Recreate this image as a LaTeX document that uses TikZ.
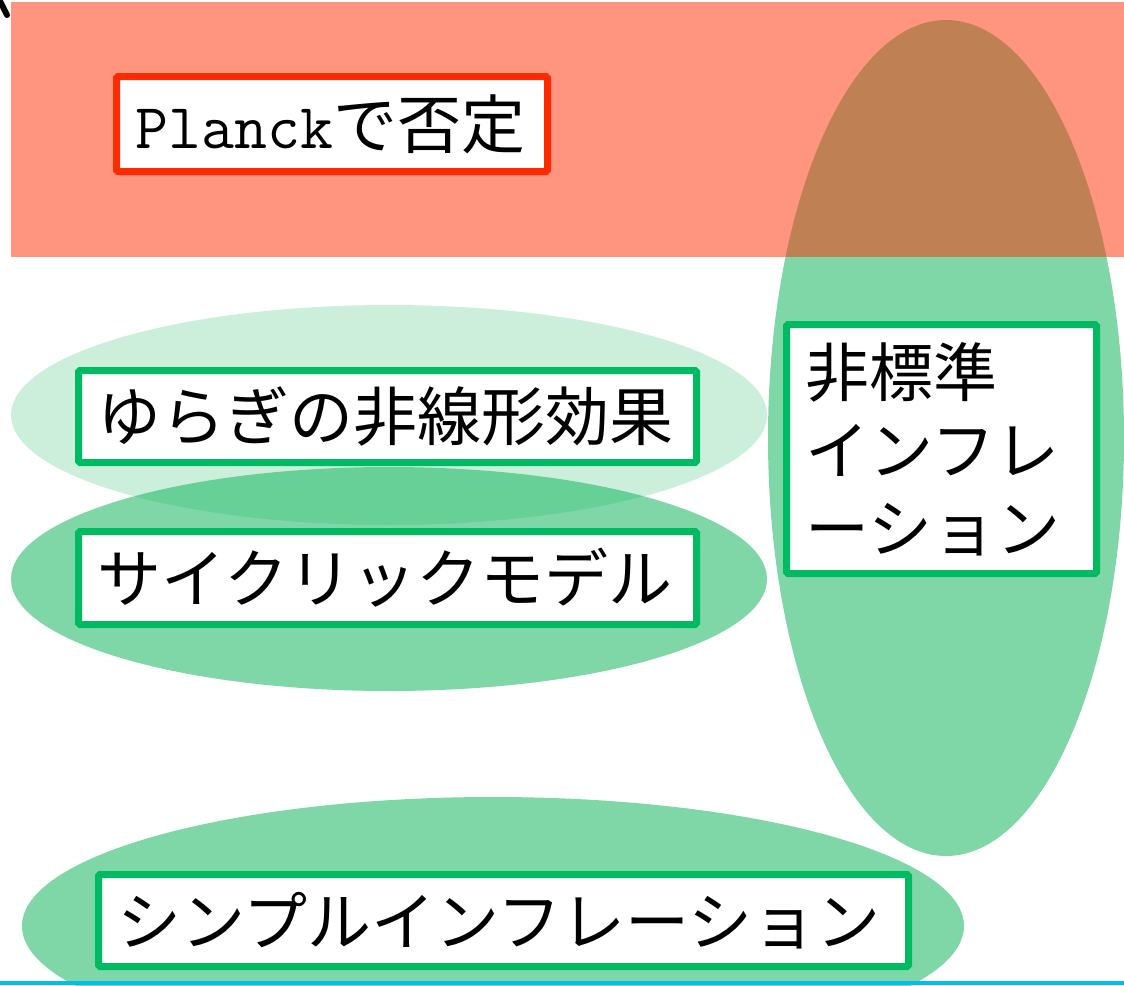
\documentclass[tikz,border=0pt]{standalone}
\usepackage{fontspec}
\setmainfont{Noto Sans CJK JP}
\definecolor{grn}{RGB}{0,176,80}
\definecolor{bgreen}{RGB}{0,186,98}
\definecolor{rd}{RGB}{255,43,0}
\definecolor{cyanline}{RGB}{0,190,240}
\begin{document}
\begin{tikzpicture}[x=1pt,y=-1pt,
  region/.style={fill=grn, fill opacity=0.5},
  lightregion/.style={fill=grn, fill opacity=0.2},
  box/.style={draw=bgreen, line width=7pt, fill=white, rounded corners=1.5pt,
    inner xsep=19pt, inner ysep=0pt, align=left,
    font=\fontsize{64}{78}\selectfont},
  redbox/.style={box, draw=rd}
]
\useasboundingbox (0,0) rectangle (1124,985);
% regions
\fill[lightregion] (389,415) ellipse [x radius=378pt, y radius=110pt];
\fill[region] (389,579) ellipse [x radius=378pt, y radius=112pt];
\fill[region] (946,438) ellipse [x radius=178pt, y radius=418pt];
\fill[region] (493,926) ellipse [x radius=471pt, y radius=129pt];
\fill[rd, fill opacity=0.5] (11,2) rectangle (1124,257);
% stray mark at top-left
\coordinate (m1) at (0,1);
\coordinate (m2) at (7,15);
\draw[line width=6pt, line cap=round] (m1) -- (m2);
% bottom line
\coordinate (c1) at (0,983);
\coordinate (c2) at (1124,983);
\draw[cyanline, line width=3.5pt] (c1) -- (c2);
% boxes
\node[redbox, minimum height=95pt, text width=393pt] (planck) at (332,124) {{\ttfamily Planck}で否定};
\node[box, minimum height=92pt, text width=580pt] (yuragi) at (387.5,416.5) {ゆらぎの非線形効果};
\node[box, minimum height=93pt, text width=580pt] (cyclic) at (387.5,578) {サイクリックモデル};
\node[box, minimum height=249pt, text width=272pt] (nonstd) at (941.5,449) {非標準\\インフレ\\ーション};
\node[box, minimum height=92pt, text width=772pt] (simple) at (503.5,920.5) {シンプルインフレーション};
\end{tikzpicture}
\end{document}
